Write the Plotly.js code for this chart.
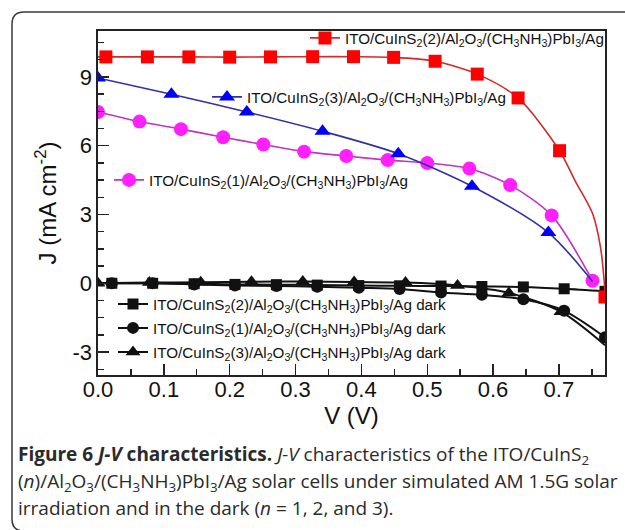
<!DOCTYPE html>
<html><head><meta charset="utf-8">
<script src="https://cdn.plot.ly/plotly-3.0.1.min.js"></script>
<style>html,body{margin:0;padding:0;background:#fff;} #chart{width:625px;height:530px;}</style>
</head><body><div id="chart"></div>
<script>
// ---------------- data ----------------
// Illuminated: ITO/CuInS2(2)  (red squares)
const v2 = [0, 0.012, 0.075, 0.138, 0.200, 0.262, 0.326, 0.388, 0.449, 0.512, 0.576, 0.638, 0.701, 0.724, 0.751, 0.763, 0.769, 0.770];
const j2 = [9.87, 9.87, 9.87, 9.87, 9.86, 9.87, 9.88, 9.88, 9.85, 9.68, 9.12, 8.08, 5.78, 4.50, 3.05, 1.60, 0.00, -0.60];
const mk2 = [1,2,3,4,5,6,7,8,9,10,11,12,17];
// Illuminated: ITO/CuInS2(3)  (blue triangles)
const v3 = [0, 0.1115, 0.226, 0.341, 0.456, 0.568, 0.684, 0.751];
const j3 = [8.95, 8.24, 7.47, 6.63, 5.65, 4.23, 2.21, 0.08];
const mk3 = [0,1,2,3,4,5,6];
// Illuminated: ITO/CuInS2(1)  (magenta circles)
const v1 = [0, 0.063, 0.126, 0.190, 0.251, 0.313, 0.377, 0.440, 0.500, 0.564, 0.626, 0.689, 0.751];
const j1 = [7.47, 7.05, 6.72, 6.37, 6.05, 5.74, 5.55, 5.37, 5.24, 5.00, 4.28, 2.96, 0.11];
const mk1 = [0,1,2,3,4,5,6,7,8,9,10,11,12];
// Dark: ITO/CuInS2(2) (squares) and ITO/CuInS2(1) (circles)
const vd = [0, 0.021, 0.083, 0.146, 0.208, 0.271, 0.333, 0.396, 0.458, 0.521, 0.583, 0.646, 0.708, 0.770];
const jd2 = [0, 0, 0, -0.02, -0.05, -0.06, -0.08, -0.10, -0.11, -0.12, -0.14, -0.16, -0.24, -0.35];
const jd1 = [0, 0, 0, -0.05, -0.10, -0.12, -0.15, -0.20, -0.25, -0.40, -0.50, -0.70, -1.20, -2.35];
const mkd = [1,2,3,4,5,6,7,8,9,10,11,12,13];
// Dark: ITO/CuInS2(3) (triangles)
const vd3 = [0, 0.078, 0.156, 0.233, 0.311, 0.389, 0.467, 0.546, 0.624, 0.703, 0.770];
const jd3 = [0, 0.03, 0.04, 0.07, 0.08, 0.05, 0.03, -0.10, -0.42, -1.24, -2.70];
const mkd3 = [0,1,2,3,4,5,6,7,8,9];

const name2 = 'ITO/CuInS<sub>2</sub>(2)/Al<sub>2</sub>O<sub>3</sub>/(CH<sub>3</sub>NH<sub>3</sub>)PbI<sub>3</sub>/Ag';
const name3 = 'ITO/CuInS<sub>2</sub>(3)/Al<sub>2</sub>O<sub>3</sub>/(CH<sub>3</sub>NH<sub>3</sub>)PbI<sub>3</sub>/Ag';
const name1 = 'ITO/CuInS<sub>2</sub>(1)/Al<sub>2</sub>O<sub>3</sub>/(CH<sub>3</sub>NH<sub>3</sub>)PbI<sub>3</sub>/Ag';
const darkSuffix = ' dark';

const xTickVals = [0, 0.1, 0.2, 0.3, 0.4, 0.5, 0.6, 0.7];
const xTickText = ['0.0', '0.1', '0.2', '0.3', '0.4', '0.5', '0.6', '0.7'];
const yTickVals = [-3, 0, 3, 6, 9];
const yTickText = ['-3', '0', '3', '6', '9'];

// ---------------- layout helpers ----------------
const W = 625, H = 530;
const M = {l: 98, r: 20, t: 31, b: 155};
const PW = W - M.l - M.r, PH = H - M.t - M.b;
const px = p => (p - M.l) / PW;      // pixel x -> paper
const py = p => (H - M.b - p) / PH;  // pixel y -> paper

const pick = (arr, idx) => idx.map(i => arr[i]);

function series(v, j, idx, lineColor, lineWidth, mColor, symbol, size) {
  return [
    {x: v, y: j, mode: 'lines', type: 'scatter', showlegend: false,
     line: {color: lineColor, width: lineWidth, shape: 'spline', smoothing: 0.8}, hoverinfo: 'skip'},
    {x: pick(v, idx), y: pick(j, idx), mode: 'markers', type: 'scatter', showlegend: false,
     marker: {color: mColor, symbol: symbol, size: size, line: {width: 0}}, hoverinfo: 'skip'}
  ];
}
function legendItem(name, legendId, lineColor, lineWidth, mColor, symbol, size) {
  return {x: [null], y: [null], mode: 'lines+markers', type: 'scatter', name: name, legend: legendId,
          line: {color: lineColor, width: lineWidth}, marker: {color: mColor, symbol: symbol, size: size}};
}

const RED_L = '#d42a2a', RED_M = '#ff0000';
const BLU_L = '#3030a8', BLU_M = '#0000ff';
const MAG_L = '#c235c2', MAG_M = '#ff1fff';
const BLK = '#111111';

const traces = [].concat(
  series(vd, jd2, mkd, BLK, 2, BLK, 'square', 11),
  series(vd, jd1, mkd, BLK, 2, BLK, 'circle', 12),
  series(vd3, jd3, mkd3, BLK, 2, BLK, 'triangle-up', 13),
  series(v1, j1, mk1, MAG_L, 1.6, MAG_M, 'circle', 14),
  series(v3, j3, mk3, BLU_L, 1.6, BLU_M, 'triangle-up', 14),
  series(v2, j2, mk2, RED_L, 1.6, RED_M, 'square', 13),
  [
    legendItem(name2, 'legend', RED_L, 1.6, RED_M, 'square', 13),
    legendItem(name3, 'legend2', BLU_L, 1.6, BLU_M, 'triangle-up', 14),
    legendItem(name1, 'legend3', MAG_L, 1.6, MAG_M, 'circle', 14),
    legendItem(name2 + darkSuffix, 'legend4', BLK, 2, BLK, 'square', 11),
    legendItem(name1 + darkSuffix, 'legend5', BLK, 2, BLK, 'circle', 12),
    legendItem(name3 + darkSuffix, 'legend6', BLK, 2, BLK, 'triangle-up', 13)
  ]
);

const legFont = {family: 'Liberation Sans, Arial, sans-serif', size: 15.2, color: '#111'};
function leg(xp, yp) {
  return {x: px(xp), y: py(yp), xanchor: 'left', yanchor: 'middle', bgcolor: 'rgba(0,0,0,0)',
          borderwidth: 0, font: legFont, itemwidth: 30};
}

// rounded frame around the figure
const fL = 12, fT = 12, fR = 645, fB = 531, rad = 12;
const framePath = 'M ' + px(fL) + ',' + py(fB - rad) +
  ' L ' + px(fL) + ',' + py(fT + rad) +
  ' Q ' + px(fL) + ',' + py(fT) + ' ' + px(fL + rad) + ',' + py(fT) +
  ' L ' + px(fR) + ',' + py(fT) +
  ' M ' + px(fL) + ',' + py(fB - rad) +
  ' Q ' + px(fL) + ',' + py(fB) + ' ' + px(fL + rad) + ',' + py(fB) +
  ' L ' + px(fR) + ',' + py(fB);

const capFont = {family: 'Open Sans, sans-serif', size: 19, color: '#2a2a2a'};
const capLines = [
  '<b>Figure 6 <i>J-V</i> characteristics.</b> <i>J-V</i> characteristics of the ITO/CuInS<sub>2</sub>',
  '(<i>n</i>)/Al<sub>2</sub>O<sub>3</sub>/(CH<sub>3</sub>NH<sub>3</sub>)PbI<sub>3</sub>/Ag solar cells under simulated AM 1.5G solar',
  'irradiation and in the dark (<i>n</i> = 1, 2, and 3).'
];
const capY = [455, 482, 508];

const axFont = {family: 'Liberation Sans, Arial, sans-serif', size: 22, color: '#111'};
const layout = {
  width: W, height: H,
  margin: M,
  paper_bgcolor: '#fff', plot_bgcolor: '#fff',
  showlegend: true,
  xaxis: {
    range: [0, 0.77], showgrid: false, zeroline: false,
    showline: true, linecolor: '#222', linewidth: 1.6, mirror: true,
    ticks: 'inside', ticklen: 11, tickwidth: 1.4, tickcolor: '#222',
    tickvals: xTickVals, ticktext: xTickText, tickfont: axFont, ticklabelstandoff: -6,
    minor: {dtick: 0.05, ticks: 'inside', ticklen: 6, tickwidth: 1.4, tickcolor: '#222', showgrid: false},
    title: {text: 'V (V)', font: {family: 'Liberation Sans, Arial, sans-serif', size: 24, color: '#111'}, standoff: 4}
  },
  yaxis: {
    range: [-4, 11], showgrid: false, zeroline: false,
    showline: true, linecolor: '#222', linewidth: 1.6, mirror: true,
    ticks: 'inside', ticklen: 11, tickwidth: 1.4, tickcolor: '#222',
    tickvals: yTickVals, ticktext: yTickText, tickfont: axFont,
    minor: {dtick: 0.75, tick0: 0, ticks: 'inside', ticklen: 6, tickwidth: 1.4, tickcolor: '#222', showgrid: false},
    title: {text: 'J (mA cm<sup>-2</sup>)', font: {family: 'Liberation Sans, Arial, sans-serif', size: 24, color: '#111'}, standoff: 9}
  },
  legend: leg(305, 38),
  legend2: leg(207, 97),
  legend3: leg(109, 180),
  legend4: leg(113, 304),
  legend5: leg(113, 328),
  legend6: leg(113, 352),
  shapes: [{type: 'path', xref: 'paper', yref: 'paper', path: framePath,
            line: {color: '#3a3a3a', width: 1.5}, fillcolor: 'rgba(0,0,0,0)', layer: 'below'}],
  annotations: capLines.map((t, i) => ({
    text: t, xref: 'paper', yref: 'paper', x: px(16), y: py(capY[i]),
    xanchor: 'left', yanchor: 'middle', showarrow: false, align: 'left', font: capFont
  }))
};

Plotly.newPlot('chart', traces, layout, {staticPlot: true, displayModeBar: false});
</script></body></html>
